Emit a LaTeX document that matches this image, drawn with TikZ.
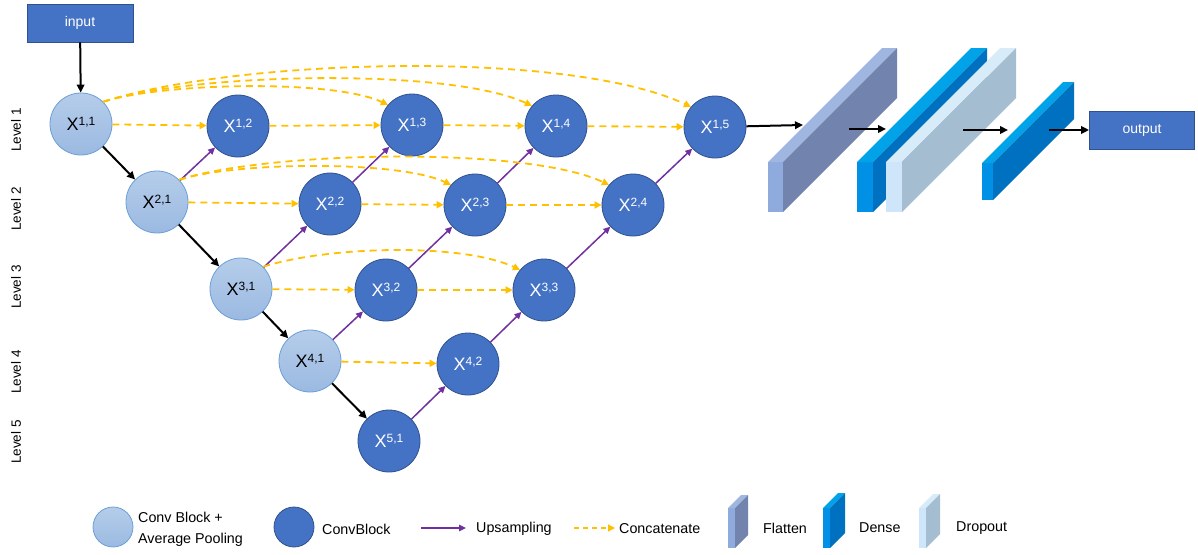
\documentclass[tikz,border=0pt]{standalone}
\usepackage{fontspec}
\setmainfont{Liberation Sans}
\usetikzlibrary{arrows.meta}
\definecolor{dkblue}{HTML}{4472C4}
\definecolor{dkborder}{HTML}{2F528F}
\definecolor{ltborder}{HTML}{6A9FD8}
\definecolor{lttop}{HTML}{B5CDEA}
\definecolor{ltbot}{HTML}{9BB9E1}
\definecolor{yel}{HTML}{FFC000}
\definecolor{purp}{HTML}{7030A0}
\definecolor{flfront}{HTML}{8FAADC}
\definecolor{fltop}{HTML}{9FB6E0}
\definecolor{flside}{HTML}{7283AE}
\definecolor{dnfront}{HTML}{0091E6}
\definecolor{dntop}{HTML}{00A2E8}
\definecolor{dnside}{HTML}{0070C0}
\definecolor{dpfront}{HTML}{CFE5FA}
\definecolor{dptop}{HTML}{D8EBF9}
\definecolor{dpside}{HTML}{A5BDD1}
\newcommand{\nlab}[2]{{\fontsize{18}{18}\selectfont X\raisebox{5pt}{\fontsize{12}{12}\selectfont #1,#2}}}
\newcommand{\drawslab}[8]{%
  \fill[#6] (#1,#2) rectangle ++(#3,-#4);
  \fill[#8] (#1,#2-#4) -- ++(#3,0) -- ++(#5,-#5) -- ++(-#3,0) -- cycle;
  \fill[#7] (#1+#3,#2) -- ++(0,-#4) -- ++(#5,-#5) -- ++(0,#4) -- cycle;
}
\tikzset{
  lightnode/.style={circle, minimum size=62pt, inner sep=0pt, draw=ltborder, line width=0.8pt, top color=lttop, bottom color=ltbot, text=black},
  darknode/.style={circle, minimum size=62pt, inner sep=0pt, draw=dkborder, line width=0.8pt, fill=dkblue, text=white},
  boxnode/.style={draw=dkborder, line width=0.8pt, fill=dkblue, text=white, minimum width=106pt, minimum height=38pt, inner sep=0pt, font=\fontsize{14}{14}\selectfont},
  blackarrow/.style={-{Triangle[length=8pt,width=7.5pt]}, line width=2pt, black},
  uparrow/.style={-{Triangle[length=7pt,width=6.5pt]}, line width=1.5pt, purp},
  catarrow/.style={-{Triangle[length=7pt,width=7pt]}, line width=1.8pt, yel, dash pattern=on 7pt off 5pt},
  skiparrow/.style={catarrow, out=18, in=155, looseness=0.55},
  levellabel/.style={rotate=90, font=\fontsize{13.5}{13.5}\selectfont, inner sep=0pt},
  legendtext/.style={anchor=west, font=\fontsize{14.3}{21}\selectfont, align=left, inner sep=0pt},
}
\begin{document}
\begin{tikzpicture}[x=1pt, y=-1pt]
\useasboundingbox (0,0) rectangle (1198,554);
% level labels
\node[levellabel] (lv1) at (16,130) {Level 1};
\node[levellabel] (lv2) at (16,209) {Level 2};
\node[levellabel] (lv3) at (16,287) {Level 3};
\node[levellabel] (lv4) at (16,372) {Level 4};
\node[levellabel] (lv5) at (16,442) {Level 5};
% nodes
\node[boxnode] (input) at (80,23) {input};
\node[lightnode] (X11) at (81,124) {\nlab{1}{1}};
\node[darknode] (X12) at (238,126) {\nlab{1}{2}};
\node[darknode] (X13) at (412,125) {\nlab{1}{3}};
\node[darknode] (X14) at (556,126) {\nlab{1}{4}};
\node[darknode] (X15) at (715,127) {\nlab{1}{5}};
\node[lightnode] (X21) at (157,202) {\nlab{2}{1}};
\node[darknode] (X22) at (330,204) {\nlab{2}{2}};
\node[darknode] (X23) at (475,205) {\nlab{2}{3}};
\node[darknode] (X24) at (633,205) {\nlab{2}{4}};
\node[lightnode] (X31) at (241,289) {\nlab{3}{1}};
\node[darknode] (X32) at (386,290) {\nlab{3}{2}};
\node[darknode] (X33) at (544,290) {\nlab{3}{3}};
\node[lightnode] (X41) at (310,361) {\nlab{4}{1}};
\node[darknode] (X42) at (468,364) {\nlab{4}{2}};
\node[darknode] (X51) at (389,441) {\nlab{5}{1}};
% black arrows
\draw[blackarrow] (input) -- (X11);
\draw[blackarrow] (X11) -- (X21);
\draw[blackarrow] (X21) -- (X31);
\draw[blackarrow] (X31) -- (X41);
\draw[blackarrow] (X41) -- (X51);
% upsampling
\draw[uparrow] (X21) -- (X12);
\draw[uparrow] (X22) -- (X13);
\draw[uparrow] (X23) -- (X14);
\draw[uparrow] (X24) -- (X15);
\draw[uparrow] (X31) -- (X22);
\draw[uparrow] (X32) -- (X23);
\draw[uparrow] (X33) -- (X24);
\draw[uparrow] (X41) -- (X32);
\draw[uparrow] (X42) -- (X33);
\draw[uparrow] (X51) -- (X42);
% concatenation straight
\draw[catarrow] (X11) -- (X12);
\draw[catarrow] (X12) -- (X13);
\draw[catarrow] (X13) -- (X14);
\draw[catarrow] (X14) -- (X15);
\draw[catarrow] (X21) -- (X22);
\draw[catarrow] (X22) -- (X23);
\draw[catarrow] (X23) -- (X24);
\draw[catarrow] (X31) -- (X32);
\draw[catarrow] (X32) -- (X33);
\draw[catarrow] (X41) -- (X42);
% skip concatenations
\draw[skiparrow] (X11.45) to (X13.140);
\draw[skiparrow] (X11.45) to (X14.140);
\draw[skiparrow, looseness=0.6] (X11.45) to (X15.140);
\draw[skiparrow] (X21.45) to (X23.140);
\draw[skiparrow] (X21.45) to (X24.140);
\draw[skiparrow, looseness=0.65] (X31.45) to (X33.140);
% dense head slabs
\drawslab{768}{212}{15}{50}{114}{flfront}{flside}{fltop}
\drawslab{857}{212}{16}{50}{114}{dnfront}{dnside}{dntop}
\drawslab{886}{212}{16}{50}{114}{dpfront}{dpside}{dptop}
\drawslab{982}{200}{11}{37}{81}{dnfront}{dnside}{dntop}
\node[boxnode, minimum width=105pt] (output) at (1142,130) {output};
\coordinate (a1e) at (803,125);
\coordinate (a2s) at (849,129);
\coordinate (a2e) at (886,129);
\coordinate (a3s) at (963,130);
\coordinate (a3e) at (1008,130);
\coordinate (a4s) at (1049,130);
\draw[blackarrow] (X15) -- (a1e);
\draw[blackarrow] (a2s) -- (a2e);
\draw[blackarrow] (a3s) -- (a3e);
\draw[blackarrow] (a4s) -- (output);
% legend
\node[lightnode, minimum size=40pt] (L1) at (113,527) {};
\node[legendtext] (L1t) at (138,529) {Conv Block +\\Average Pooling};
\node[darknode, minimum size=40pt] (L2) at (294,527) {};
\node[legendtext] (L2t) at (322,529) {ConvBlock};
\coordinate (U1) at (421,528);
\coordinate (U2) at (466,528);
\draw[uparrow] (U1) -- (U2);
\node[legendtext] (L3t) at (476,529) {Upsampling};
\coordinate (C1) at (574,528);
\coordinate (C2) at (615,528);
\draw[catarrow, line width=1.3pt, dash pattern=on 5pt off 4pt] (C1) -- (C2);
\node[legendtext] (L4t) at (619,529) {Concatenate};
\drawslab{728}{548}{7}{40}{13}{flfront}{flside}{fltop}
\node[legendtext] (L5t) at (763,528) {Flatten};
\drawslab{823}{548}{7}{40}{15}{dnfront}{dnside}{dntop}
\node[legendtext] (L6t) at (859,528) {Dense};
\drawslab{919}{548}{7}{40}{14}{dpfront}{dpside}{dptop}
\node[legendtext] (L7t) at (956,528) {Dropout};
\end{tikzpicture}
\end{document}
